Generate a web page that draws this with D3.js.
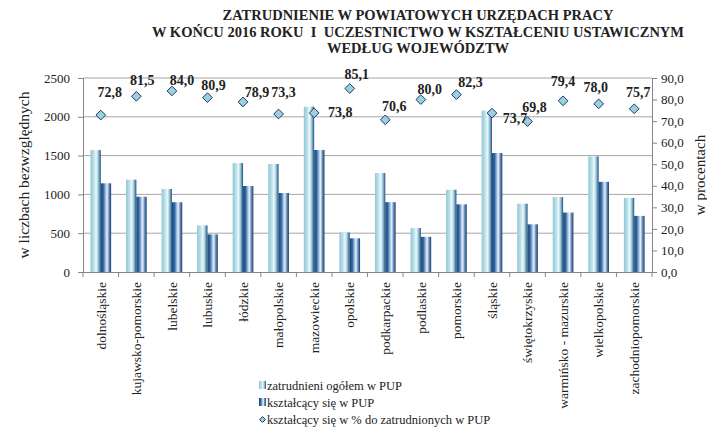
<html>
<head>
<meta charset="utf-8">
<script src="https://d3js.org/d3.v7.min.js"></script>
<style>
body { margin: 0; background: white; }
text { font-family: 'Liberation Serif', 'Times New Roman', serif; fill: #222; }
</style>
</head>
<body>
<svg width="707" height="438"></svg>
<script>
// województwa
const categories = ["dolnośląskie", "kujawsko-pomorskie", "lubelskie", "lubuskie", "łódzkie",
  "małopolskie", "mazowieckie", "opolskie", "podkarpackie", "podlaskie", "pomorskie",
  "śląskie", "świętokrzyskie", "warmińsko - mazurskie", "wielkopolskie", "zachodniopomorskie"];
// zatrudnieni ogółem w PUP
const employed = [1571, 1190, 1070, 600, 1404, 1391, 2130, 510, 1275, 566, 1060, 2080, 880, 965, 1490, 955];
// kształcący się w PUP
const learning = [1143, 970, 899, 485, 1108, 1018, 1572, 434, 900, 453, 872, 1533, 614, 766, 1162, 723];
// kształcący się w % do zatrudnionych
const percent = [72.8, 81.5, 84.0, 80.9, 78.9, 73.3, 73.8, 85.1, 70.6, 80.0, 82.3, 73.7, 69.8, 79.4, 78.0, 75.7];

const leftTicks = [0, 500, 1000, 1500, 2000, 2500];
const rightTicks = [0, 10, 20, 30, 40, 50, 60, 70, 80, 90];
const titleLines = ["ZATRUDNIENIE W POWIATOWYCH URZĘDACH PRACY",
  "W KOŃCU 2016 ROKU  I  UCZESTNICTWO W KSZTAŁCENIU USTAWICZNYM",
  "WEDŁUG WOJEWÓDZTW"];
const seriesNames = ["zatrudnieni ogółem w PUP", "kształcący się w PUP",
  "kształcący się w % do zatrudnionych w PUP"];

// where Excel put each percentage label, relative to its marker
const labelShift = [[9,-18],[6,-11],[10,-6],[6,-8],[14,-5],[5,-17],[26,4],[7,-10],
  [9,-9],[9,-6],[14,-8],[23,10],[7,-10],[0,-15],[-3,-12],[4,-12]];

const svg = d3.select("svg");
const plotL = 83, plotR = 652, plotT = 78, plotB = 272;

// gradients for the cylinder-ish bars
const defs = svg.append("defs");
const grads = {
  g0: [[0, "#8fc6d6"], [0.35, "#bfe2ea"], [0.55, "#eef8fa"], [0.72, "#a9d5e2"], [0.88, "#5b8fb3"], [1, "#24466e"]],
  g1: [[0, "#24466e"], [0.25, "#2c67a8"], [0.5, "#b9cde6"], [0.62, "#e6eef7"], [0.78, "#6f95c4"], [1, "#1d3d66"]]
};
Object.keys(grads).forEach(id => {
  const g = defs.append("linearGradient").attr("id", id)
    .attr("x1", "0%").attr("x2", "100%").attr("y1", "0%").attr("y2", "0%");
  grads[id].forEach(s => g.append("stop").attr("offset", s[0]).attr("stop-color", s[1]));
});

const x = d3.scaleBand().domain(categories).range([plotL, plotR]).padding(0);
const x1 = d3.scaleBand().domain([0, 1]).range([0, x.bandwidth()]).paddingInner(0).paddingOuter(0.72);
const y = d3.scaleLinear().domain([0, 2500]).range([plotB, plotT]);
const y2 = d3.scaleLinear().domain([0, 90]).range([plotB, plotT]);

// title
svg.append("g").selectAll("text").data(titleLines).enter().append("text")
  .attr("x", 418).attr("y", (d, i) => 20 + i * 16.5)
  .attr("text-anchor", "middle")
  .attr("xml:space", "preserve")
  .style("font-weight", "bold").style("font-size", "14.5px")
  .style("white-space", "pre")
  .text(d => d);

// gridlines
svg.append("g").selectAll("line").data(leftTicks.filter(d => d > 0)).enter().append("line")
  .attr("x1", plotL).attr("x2", plotR)
  .attr("y1", d => y(d)).attr("y2", d => y(d))
  .attr("stroke", "#a6a6a6").attr("stroke-width", 1);

// bars
const groups = svg.append("g").selectAll("g").data(categories).enter().append("g")
  .attr("transform", d => "translate(" + x(d) + ",0)");
groups.append("rect")
  .attr("x", x1(0)).attr("width", x1.bandwidth())
  .attr("y", (d, i) => y(employed[i])).attr("height", (d, i) => plotB - y(employed[i]))
  .attr("fill", "url(#g0)");
groups.append("rect")
  .attr("x", x1(1)).attr("width", x1.bandwidth())
  .attr("y", (d, i) => y(learning[i])).attr("height", (d, i) => plotB - y(learning[i]))
  .attr("fill", "url(#g1)");

// axes
const axisL = svg.append("g").attr("transform", "translate(" + plotL + ",0)")
  .call(d3.axisLeft(y).tickValues(leftTicks).tickSize(5).tickPadding(8).tickFormat(d3.format("d")));
const axisR = svg.append("g").attr("transform", "translate(" + plotR + ",0)")
  .call(d3.axisRight(y2).tickValues(rightTicks).tickSize(5).tickPadding(4)
    .tickFormat(d => d.toFixed(1).replace(".", ",")));
const axisB = svg.append("g").attr("transform", "translate(0," + plotB + ")")
  .call(d3.axisBottom(x).tickSize(0).tickPadding(10));

[axisL, axisR, axisB].forEach(a => {
  a.select(".domain").attr("stroke", "#868686");
  a.selectAll(".tick line").attr("stroke", "#868686");
  a.selectAll("text").style("font-size", "13px").style("font-family", "'Liberation Serif', serif").attr("fill", "#222");
});

axisB.selectAll(".tick text")
  .attr("transform", "rotate(-90)")
  .attr("text-anchor", "end")
  .attr("x", -10).attr("y", 0).attr("dy", "0.35em")
  .style("font-size", "13.5px");

// ticks between categories
svg.append("g").selectAll("line").data(categories.concat(["end"])).enter().append("line")
  .attr("x1", (d, i) => plotL + i * x.step()).attr("x2", (d, i) => plotL + i * x.step())
  .attr("y1", plotB).attr("y2", plotB + 5)
  .attr("stroke", "#868686");

// axis titles
svg.append("text")
  .attr("transform", "translate(24," + ((plotT + plotB) / 2) + ") rotate(-90)")
  .attr("text-anchor", "middle").attr("dy", "0.35em")
  .style("font-size", "15.5px")
  .text("w liczbach bezwzględnych");
svg.append("text")
  .attr("transform", "translate(700," + ((plotT + plotB) / 2) + ") rotate(-90)")
  .attr("text-anchor", "middle").attr("dy", "0.35em")
  .style("font-size", "15px")
  .text("w procentach");

// percent markers
const cx = d => x(d) + x.bandwidth() / 2;
svg.append("g").selectAll("path").data(categories).enter().append("path")
  .attr("d", d3.symbol().type(d3.symbolDiamond2).size(60))
  .attr("transform", (d, i) => "translate(" + cx(d) + "," + y2(percent[i]) + ")")
  .attr("fill", "#9ccfdf").attr("stroke", "#1f3864").attr("stroke-width", 1);

svg.append("g").selectAll("text").data(categories).enter().append("text")
  .attr("x", (d, i) => cx(d) + labelShift[i][0])
  .attr("y", (d, i) => y2(percent[i]) + labelShift[i][1])
  .attr("text-anchor", "middle")
  .style("font-weight", "bold").style("font-size", "14px")
  .text((d, i) => percent[i].toFixed(1).replace(".", ","));

// legend
const legend = svg.append("g").attr("transform", "translate(259,390)");
const rows = legend.selectAll("g").data(seriesNames).enter().append("g")
  .attr("transform", (d, i) => "translate(0," + i * 17 + ")");
rows.filter((d, i) => i < 2).append("rect")
  .attr("x", 0).attr("y", -9).attr("width", 7).attr("height", 8)
  .attr("fill", (d, i) => "url(#g" + i + ")");
rows.filter((d, i) => i === 2).append("path")
  .attr("d", d3.symbol().type(d3.symbolDiamond2).size(22))
  .attr("transform", "translate(3.5,-4.5)")
  .attr("fill", "#9ccfdf").attr("stroke", "#1f3864").attr("stroke-width", 1);
rows.append("text")
  .attr("x", 8).attr("y", 0)
  .style("font-size", "12.5px")
  .text(d => d);
</script>
</body>
</html>
